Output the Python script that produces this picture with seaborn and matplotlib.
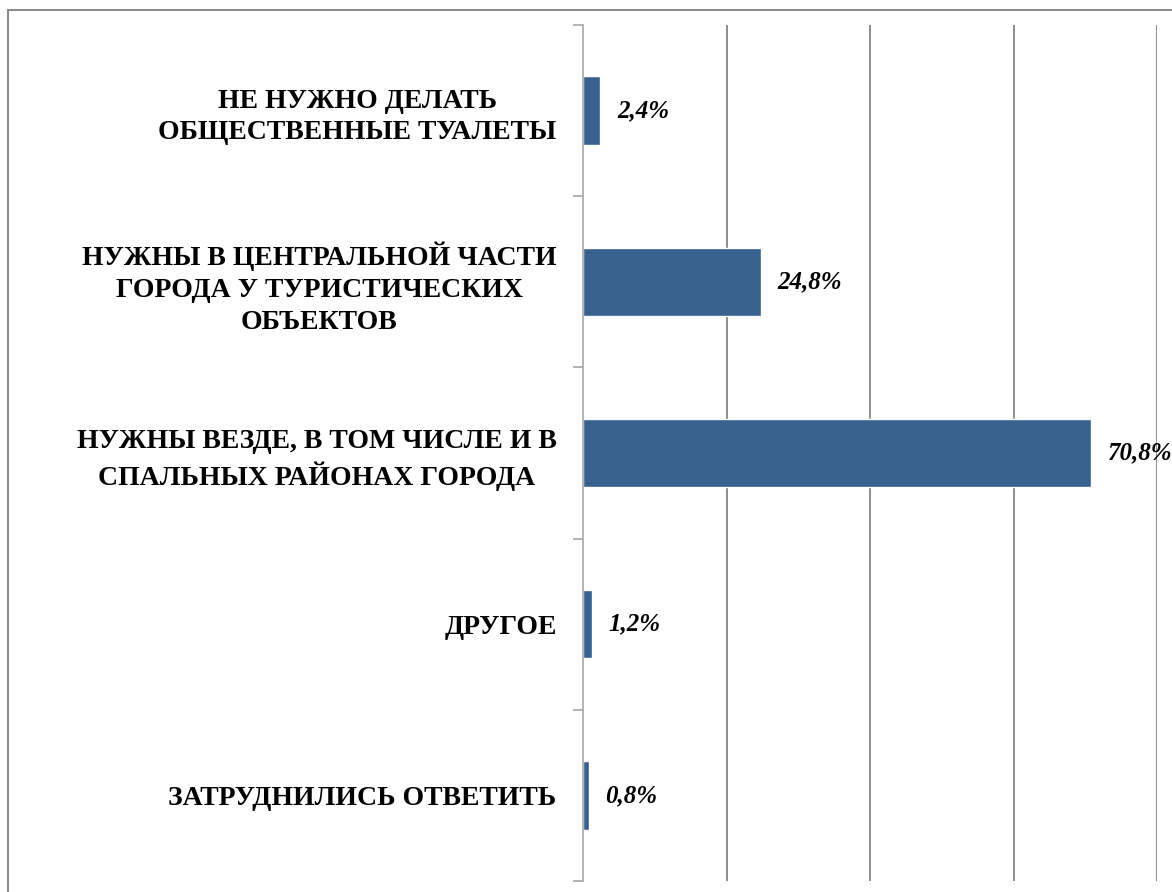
import matplotlib
matplotlib.use("Agg")
import matplotlib.pyplot as plt
import seaborn as sns
from matplotlib.patches import Rectangle

categories = [
    "НЕ НУЖНО ДЕЛАТЬ\nОБЩЕСТВЕННЫЕ ТУАЛЕТЫ",
    "НУЖНЫ В ЦЕНТРАЛЬНОЙ ЧАСТИ\nГОРОДА У ТУРИСТИЧЕСКИХ\nОБЪЕКТОВ",
    "НУЖНЫ ВЕЗДЕ, В ТОМ ЧИСЛЕ И В\nСПАЛЬНЫХ РАЙОНАХ ГОРОДА",
    "ДРУГОЕ",
    "ЗАТРУДНИЛИСЬ ОТВЕТИТЬ",
]
values = [2.4, 24.8, 70.8, 1.2, 0.8]
value_labels = ["2,4%", "24,8%", "70,8%", "1,2%", "0,8%"]
grid_ticks = [0, 20, 40, 60, 80]

sns.set_style("white")
plt.rcParams["font.family"] = ["Liberation Serif", "DejaVu Serif"]
plt.rcParams["text.color"] = "black"
plt.rcParams["ytick.color"] = "black"
plt.rcParams["ytick.labelcolor"] = "black"

fig = plt.figure(figsize=(11.72, 8.92), dpi=100)
ax = fig.add_axes([583 / 1172, 11 / 892, 574 / 1172, 856 / 892])

# vertical grid lines behind the bars
for t in grid_ticks[1:]:
    ax.axvline(t, color="#8c8c8c", linewidth=1.4, zorder=0)

sns.barplot(x=values, y=categories, color="#38618f", width=0.4, errorbar=None,
            orient="h", saturation=1, ax=ax, zorder=2)

ax.set_xlim(0, 80)
ax.set_ylim(4.5, -0.5)
ax.set_xticks(grid_ticks)
ax.set_xticklabels([])
ax.tick_params(axis="x", length=0)

# category labels, separator ticks on the left spine
ax.tick_params(axis="y", which="major", length=0, pad=19, labelcolor="black")
ax.set_yticks([-0.5, 0.5, 1.5, 2.5, 3.5, 4.5], minor=True)
ax.tick_params(axis="y", which="minor", left=True, length=7, width=1.2,
               color="#a6a6a6", direction="out")
for lab in ax.get_yticklabels():
    lab.set_fontsize(20)
    lab.set_fontweight("bold")
    lab.set_multialignment("center")
    lab.set_linespacing(1.35)

for side in ["top", "right", "bottom"]:
    ax.spines[side].set_visible(False)
ax.spines["left"].set_color("#a6a6a6")
ax.spines["left"].set_linewidth(1.2)
ax.set_xlabel("")
ax.set_ylabel("")

ax.bar_label(ax.containers[0], labels=value_labels, padding=12, color="black",
             fontsize=18, fontweight="bold", fontstyle="italic", clip_on=False)

# outer chart frame
fig.patches.append(Rectangle((8 / 1172, -0.05), 1.2, 1 - 10 / 892 + 0.05,
                             transform=fig.transFigure, fill=False,
                             edgecolor="#8c8c8c", linewidth=1.5))

fig.savefig("out.png", dpi=100)
